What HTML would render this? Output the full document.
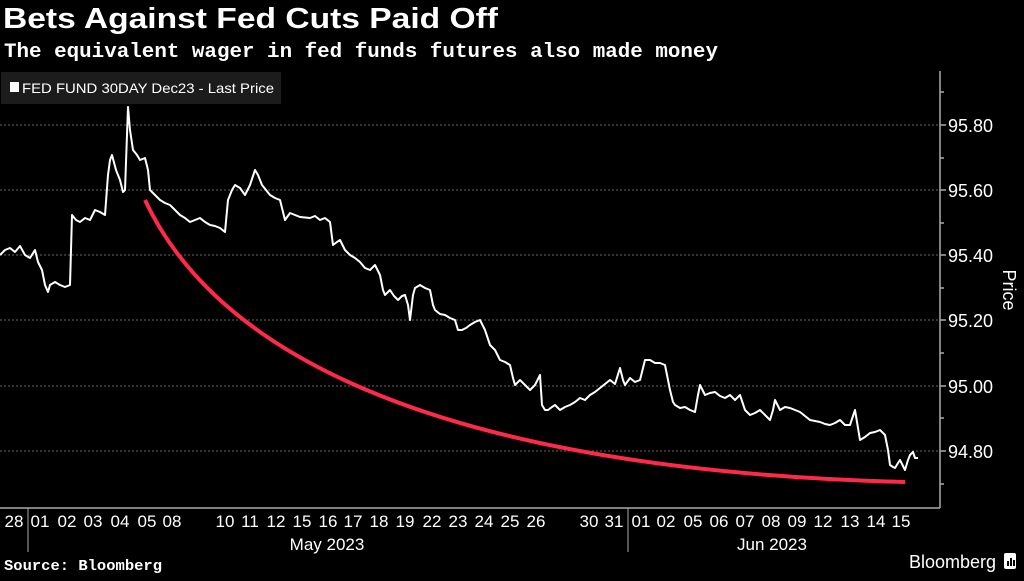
<!DOCTYPE html>
<html><head><meta charset="utf-8"><style>
body{margin:0;background:#000;width:1024px;height:576px;overflow:hidden;font-family:"Liberation Sans",sans-serif}
</style></head><body>
<svg width="1024" height="576" viewBox="0 0 1024 576" xmlns="http://www.w3.org/2000/svg">
<rect width="1024" height="576" fill="#000"/>
<text x="3" y="28" fill="#fff" font-family="Liberation Sans" font-weight="bold" font-size="29" textLength="495" lengthAdjust="spacingAndGlyphs">Bets Against Fed Cuts Paid Off</text>
<text x="4" y="57" fill="#fff" font-family="Liberation Mono" font-weight="bold" font-size="20" textLength="714" lengthAdjust="spacingAndGlyphs">The equivalent wager in fed funds futures also made money</text>
<rect x="1" y="72" width="280" height="32" fill="#1c1c1c"/>
<rect x="10" y="82" width="9" height="10" fill="#fff"/>
<text x="22" y="93" fill="#fff" font-size="14" textLength="252" lengthAdjust="spacingAndGlyphs">FED FUND 30DAY Dec23 - Last Price</text>
<g stroke="#666" stroke-dasharray="2,2" stroke-width="1">
<line x1="0" x2="938" y1="125" y2="125"/><line x1="0" x2="938" y1="190" y2="190"/>
<line x1="0" x2="938" y1="255" y2="255"/><line x1="0" x2="938" y1="320" y2="320"/>
<line x1="0" x2="938" y1="386" y2="386"/><line x1="0" x2="938" y1="451" y2="451"/>
</g>
<g stroke="#aaa" stroke-width="1.5">
<line x1="940" y1="71" x2="940" y2="508"/><line x1="0" y1="508" x2="940" y2="508"/>
<line x1="940" x2="946" y1="125" y2="125"/><line x1="940" x2="946" y1="190" y2="190"/><line x1="940" x2="946" y1="255" y2="255"/><line x1="940" x2="946" y1="320" y2="320"/><line x1="940" x2="946" y1="386" y2="386"/><line x1="940" x2="946" y1="451" y2="451"/>
<line x1="940" x2="944" y1="92" y2="92"/><line x1="940" x2="944" y1="158" y2="158"/><line x1="940" x2="944" y1="223" y2="223"/><line x1="940" x2="944" y1="288" y2="288"/><line x1="940" x2="944" y1="353" y2="353"/><line x1="940" x2="944" y1="418" y2="418"/><line x1="940" x2="944" y1="484" y2="484"/>
<line x1="28" y1="508" x2="28" y2="552" stroke-width="1"/><line x1="628" y1="508" x2="628" y2="552" stroke-width="1"/>
</g>
<g fill="#fff" font-size="18">
<text x="948" y="132">95.80</text><text x="948" y="197">95.60</text><text x="948" y="262">95.40</text><text x="948" y="327">95.20</text><text x="948" y="393">95.00</text><text x="948" y="458">94.80</text>
</g>
<text x="1003" y="290" fill="#fff" font-size="18" transform="rotate(90 1003 290)" text-anchor="middle">Price</text>
<path d="M145,200 C220,360 450,470 905,482" fill="none" stroke="#ff2a4a" stroke-width="4"/>
<polyline fill="none" stroke="#fff" stroke-width="2" stroke-linejoin="round" points="0,255 5,250 10,248 15,252 20,246 25,255 30,258 35,250 38,262 42,270 45,285 48,292 50,285 55,282 60,285 65,287 70,285 72,215 76,220 80,222 85,218 90,220 95,210 100,212 105,215 108,175 110,160 112,155 116,170 120,180 123,192 125,190 128,107 130,130 133,150 137,155 140,160 145,158 148,170 150,190 155,195 160,200 165,203 170,205 175,210 180,215 185,218 190,222 195,220 200,218 205,222 210,225 215,226 220,228 225,232 228,200 232,190 235,185 240,188 245,195 250,185 255,170 258,175 262,185 266,190 270,195 275,198 280,200 285,220 290,213 295,215 300,217 310,218 315,216 320,220 325,218 330,222 333,245 337,242 340,240 345,250 350,255 355,258 360,262 365,268 370,270 375,265 380,275 383,290 385,295 390,290 394,296 398,300 402,296 405,295 408,305 410,320 413,295 415,288 420,285 425,288 430,290 433,305 435,310 440,314 445,315 450,318 455,320 458,330 462,330 466,328 470,325 475,322 480,320 485,330 490,345 495,350 500,360 505,362 510,365 513,378 515,385 520,380 525,385 530,390 535,385 540,375 542,405 545,410 548,410 552,407 555,405 560,410 565,407 570,405 575,402 580,398 585,400 590,395 595,392 600,388 605,384 610,380 615,384 620,368 623,380 625,385 630,378 635,382 640,380 645,360 650,360 655,363 660,363 665,365 670,390 673,402 675,405 680,408 685,407 690,410 695,412 698,395 700,385 705,395 710,393 715,392 720,396 725,398 730,395 735,400 740,395 745,410 750,415 755,413 760,410 765,415 770,420 773,410 775,400 780,410 785,407 790,408 795,410 800,412 805,416 810,420 815,421 820,422 825,424 830,425 835,423 840,420 845,425 850,425 855,410 858,428 860,440 865,437 870,433 875,432 880,430 885,435 888,450 890,465 893,467 895,468 898,463 900,460 903,466 905,470 908,460 910,455 913,452 915,458 918,458"/>
<g fill="#fff" font-size="17" text-anchor="middle">
<text x="14" y="527">28</text><text x="40" y="527">01</text><text x="67" y="527">02</text><text x="93" y="527">03</text><text x="120" y="527">04</text><text x="147" y="527">05</text><text x="172" y="527">08</text>
<text x="225" y="527">10</text><text x="250" y="527">11</text><text x="276" y="527">12</text><text x="302" y="527">15</text><text x="328" y="527">16</text><text x="353" y="527">17</text><text x="379" y="527">18</text><text x="405" y="527">19</text><text x="432" y="527">22</text><text x="458" y="527">23</text><text x="484" y="527">24</text><text x="510" y="527">25</text><text x="536" y="527">26</text>
<text x="589" y="527">30</text><text x="614" y="527">31</text><text x="641" y="527">01</text><text x="666" y="527">02</text><text x="693" y="527">05</text><text x="719" y="527">06</text><text x="745" y="527">07</text><text x="771" y="527">08</text><text x="797" y="527">09</text><text x="823" y="527">12</text><text x="850" y="527">13</text><text x="876" y="527">14</text><text x="901" y="527">15</text>
<text x="327" y="550">May 2023</text><text x="772" y="550">Jun 2023</text>
</g>
<text x="4" y="570" fill="#fff" font-family="Liberation Mono" font-weight="bold" font-size="15" textLength="158" lengthAdjust="spacingAndGlyphs">Source: Bloomberg</text>
<text x="996" y="568" fill="#fff" font-size="18" text-anchor="end">Bloomberg</text>
<rect x="1004" y="553" width="12" height="16" rx="2" fill="#fff"/>
<rect x="1007" y="561" width="2" height="5" fill="#000"/><rect x="1010" y="558" width="2" height="8" fill="#000"/><rect x="1013" y="560" width="2" height="6" fill="#000"/>
</svg>
</body></html>
